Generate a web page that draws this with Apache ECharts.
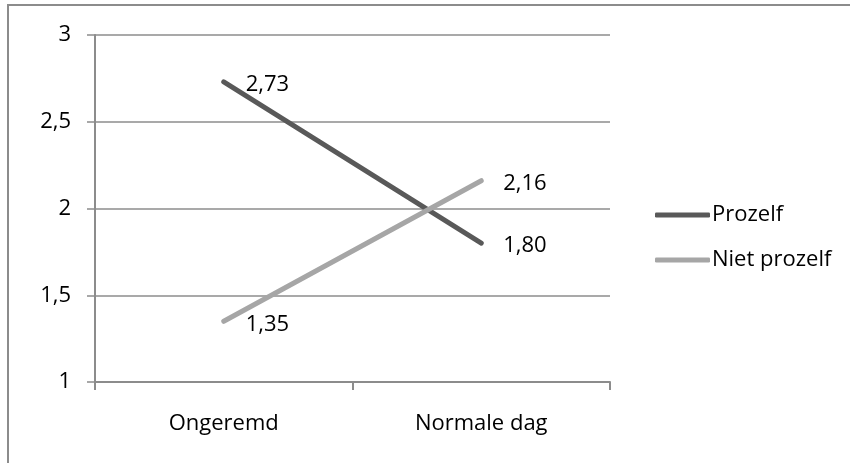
<!DOCTYPE html>
<html>
<head>
<meta charset="utf-8">
<script src="https://cdn.jsdelivr.net/npm/echarts@6/dist/echarts.min.js"></script>
<style>
  html, body { margin: 0; padding: 0; background: #fff; }
  #chart { width: 850px; height: 463px; }
</style>
</head>
<body>
<div id="chart"></div>
<script>
// Categories and values per series
const categories = ['Ongeremd', 'Normale dag'];
const prozelf = [2.73, 1.80];
const nietProzelf = [1.35, 2.16];
const seriesNames = ['Prozelf', 'Niet prozelf'];

const FONT = '"Open Sans", "Liberation Sans", sans-serif';
const FONT_SIZE = 22;
const AXIS_GREY = '#8c8c8c';

// Dutch decimal comma
const fmt = (v, digits) => v.toFixed(digits).replace('.', ',');

const chart = echarts.init(document.getElementById('chart'), null, { renderer: 'canvas' });

const labelStyle = {
  show: true,
  position: 'right',
  distance: 22,
  offset: [0, 3],
  color: '#000',
  fontFamily: FONT,
  fontSize: FONT_SIZE,
  formatter: p => fmt(p.value, 2)
};

function lineSeries(name, data, color) {
  return {
    name,
    type: 'line',
    data,
    // tiny invisible symbol so the value labels have an anchor
    symbol: 'circle',
    symbolSize: 0.01,
    showSymbol: true,
    color,
    itemStyle: { color },
    lineStyle: { color, width: 5, cap: 'round' },
    label: labelStyle
  };
}

chart.setOption({
  animation: false,
  backgroundColor: '#fff',
  textStyle: { fontFamily: FONT },
  graphic: [{
    type: 'rect',
    shape: { x: 8, y: 5, width: 900, height: 520 },
    style: { fill: 'none', stroke: '#8c8c8c', lineWidth: 2 },
    silent: true,
    z: -1
  }],
  grid: { left: 95, right: 240, top: 35, bottom: 81, containLabel: false },
  legend: {
    orient: 'vertical',
    left: 650,
    top: 198,
    itemWidth: 55,
    itemHeight: 5,
    itemGap: 21,
    icon: 'roundRect',
    data: seriesNames,
    textStyle: { fontFamily: FONT, fontSize: FONT_SIZE, color: '#000', lineHeight: 24, padding: [0, 0, 0, -3] }
  },
  xAxis: {
    type: 'category',
    data: categories,
    boundaryGap: true,
    axisLine: { lineStyle: { color: AXIS_GREY, width: 2 } },
    axisTick: { show: true, length: 8, lineStyle: { color: AXIS_GREY, width: 2 } },
    axisLabel: { color: '#000', fontFamily: FONT, fontSize: FONT_SIZE, margin: 31 }
  },
  yAxis: {
    type: 'value',
    min: 1,
    max: 3,
    interval: 0.5,
    axisLine: { show: true, lineStyle: { color: AXIS_GREY, width: 2 } },
    axisTick: { show: true, length: 8, lineStyle: { color: AXIS_GREY, width: 1.5 } },
    splitLine: { show: true, lineStyle: { color: AXIS_GREY, width: 1.5 } },
    axisLabel: {
      color: '#000', fontFamily: FONT, fontSize: FONT_SIZE, margin: 24,
      formatter: v => fmt(v, Number.isInteger(v) ? 0 : 1)
    }
  },
  series: [
    lineSeries(seriesNames[0], prozelf, '#595959'),
    lineSeries(seriesNames[1], nietProzelf, '#a6a6a6')
  ]
});
</script>
</body>
</html>
